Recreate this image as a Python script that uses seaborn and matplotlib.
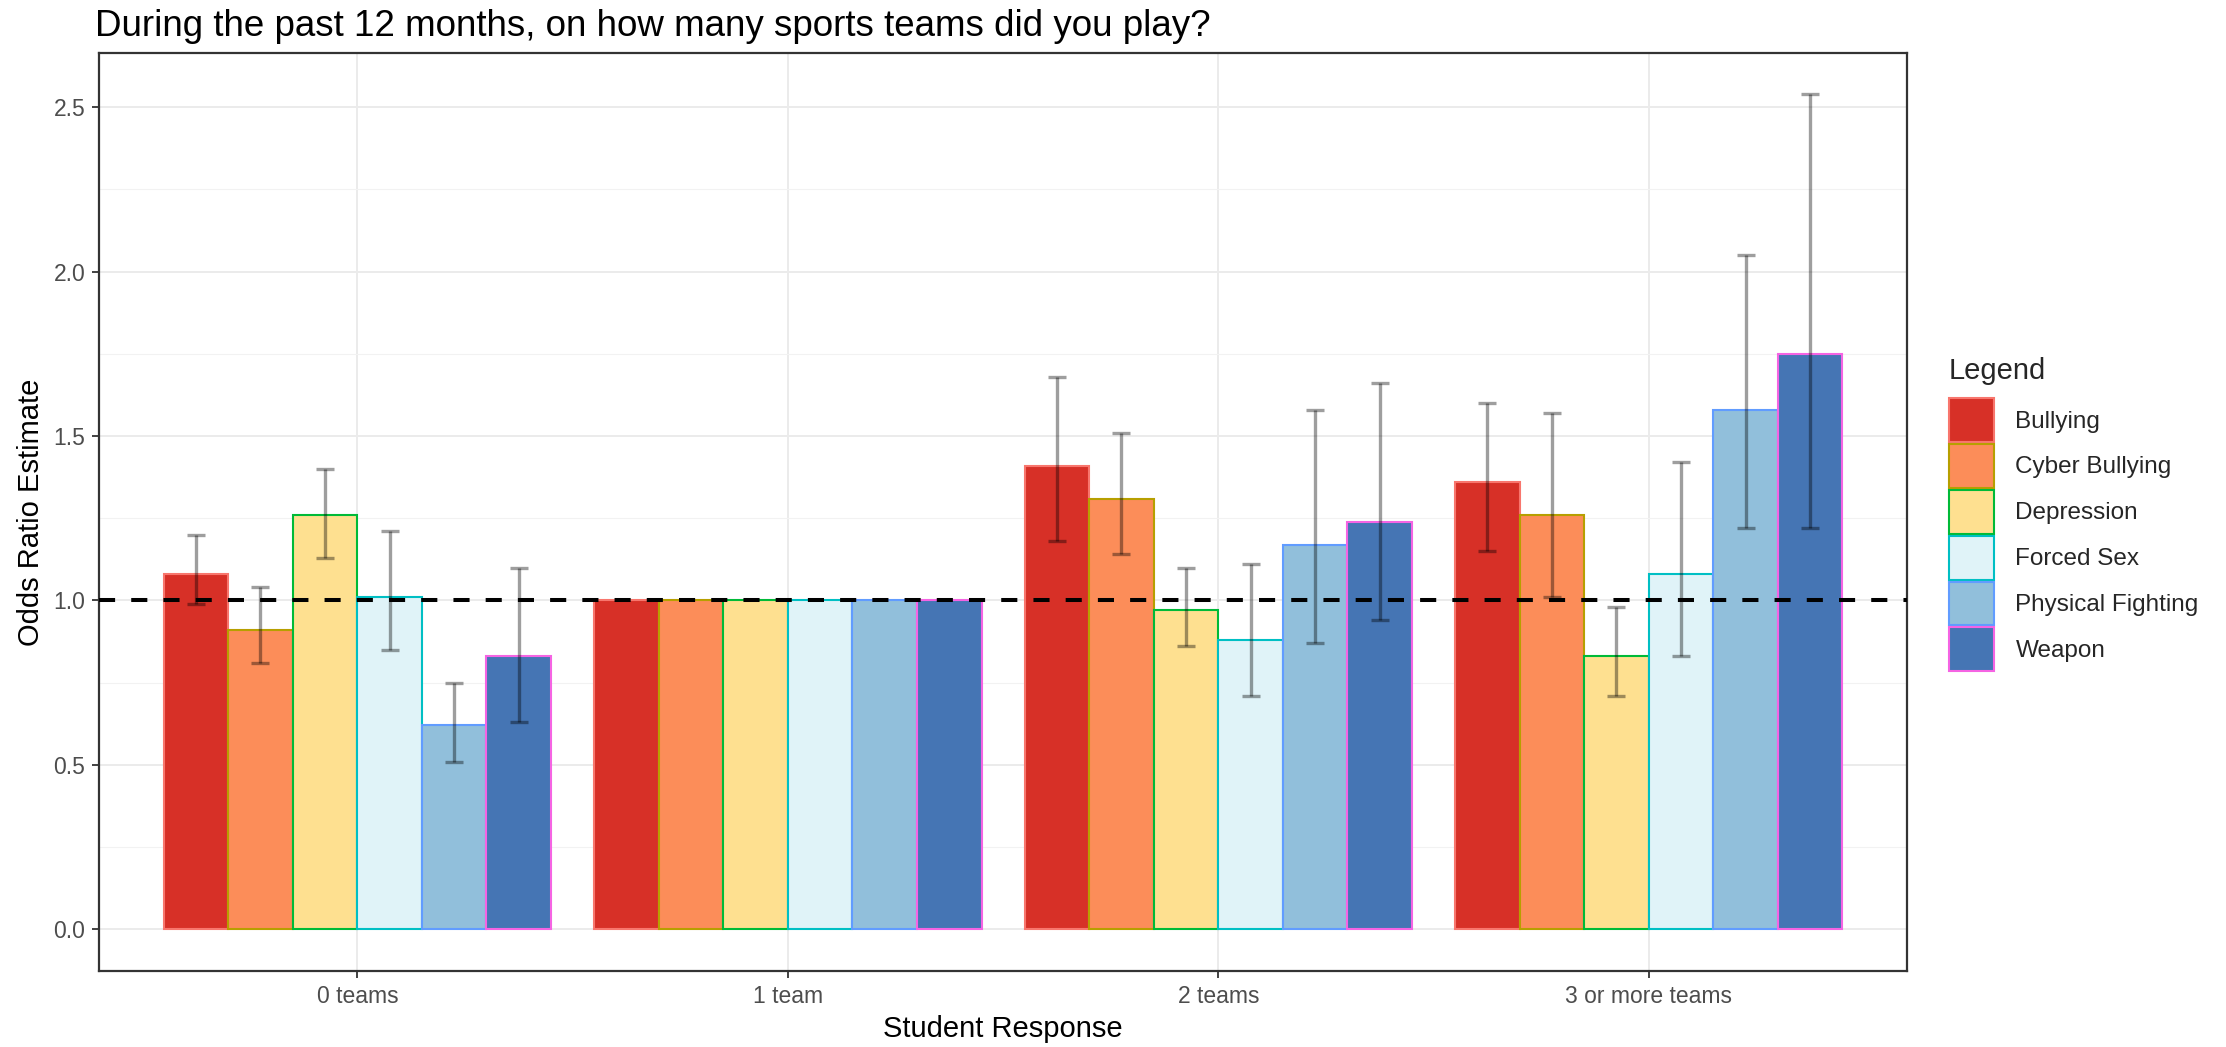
import matplotlib
matplotlib.use("Agg")
import matplotlib.pyplot as plt
from matplotlib.patches import Patch
from matplotlib.ticker import MultipleLocator
import numpy as np
import pandas as pd
import seaborn as sns

# ---- data -------------------------------------------------------------
responses = ["0 teams", "1 team", "2 teams", "3 or more teams"]
outcomes = ["Bullying", "Cyber Bullying", "Depression", "Forced Sex",
            "Physical Fighting", "Weapon"]

# odds ratio estimates per outcome, in the order of `responses`
bullying_est = [1.08, 1.00, 1.41, 1.36]
cyber_est = [0.91, 1.00, 1.31, 1.26]
depression_est = [1.26, 1.00, 0.97, 0.83]
forced_sex_est = [1.01, 1.00, 0.88, 1.08]
fighting_est = [0.62, 1.00, 1.17, 1.58]
weapon_est = [0.83, 1.00, 1.24, 1.75]

# 95% confidence limits (reference level "1 team" has none)
bullying_lo = [0.99, np.nan, 1.18, 1.15]
bullying_hi = [1.20, np.nan, 1.68, 1.60]
cyber_lo = [0.81, np.nan, 1.14, 1.01]
cyber_hi = [1.04, np.nan, 1.51, 1.57]
depression_lo = [1.13, np.nan, 0.86, 0.71]
depression_hi = [1.40, np.nan, 1.10, 0.98]
forced_sex_lo = [0.85, np.nan, 0.71, 0.83]
forced_sex_hi = [1.21, np.nan, 1.11, 1.42]
fighting_lo = [0.51, np.nan, 0.87, 1.22]
fighting_hi = [0.75, np.nan, 1.58, 2.05]
weapon_lo = [0.63, np.nan, 0.94, 1.22]
weapon_hi = [1.10, np.nan, 1.66, 2.54]

fill_colors = ["#D73027", "#FC8D59", "#FEE090", "#E0F3F8", "#91BFDB", "#4575B4"]
edge_colors = ["#F8766D", "#B79F00", "#00BA38", "#00BFC4", "#619CFF", "#F564E3"]

estimates = [bullying_est, cyber_est, depression_est, forced_sex_est,
             fighting_est, weapon_est]
lows = [bullying_lo, cyber_lo, depression_lo, forced_sex_lo, fighting_lo, weapon_lo]
highs = [bullying_hi, cyber_hi, depression_hi, forced_sex_hi, fighting_hi, weapon_hi]

rows = []
for name, est, lo, hi in zip(outcomes, estimates, lows, highs):
    for r, e, l, h in zip(responses, est, lo, hi):
        rows.append({"response": r, "outcome": name, "estimate": e,
                     "lower": l, "upper": h})
df = pd.DataFrame(rows)

# ---- styling ----------------------------------------------------------
sns.set_theme(style="white")
plt.rcParams["font.family"] = ["Liberation Sans", "DejaVu Sans"]

fig = plt.figure(figsize=(22.26, 10.47), dpi=100)
ax = fig.add_axes([0.0445, 0.0726, 0.8122, 0.8768])

sns.barplot(data=df, x="response", y="estimate", hue="outcome",
            order=responses, hue_order=outcomes, palette=fill_colors,
            saturation=1, width=0.9, gap=0, errorbar=None, legend=False,
            ax=ax, zorder=2)

# outline each series in its own colour and add confidence intervals
for container, ec, name in zip(ax.containers, edge_colors, outcomes):
    sub = df[df["outcome"] == name].set_index("response").loc[responses]
    xs = []
    for bar in container:
        bar.set_edgecolor(ec)
        bar.set_linewidth(1.5)
        xs.append(bar.get_x() + bar.get_width() / 2)
    xs = np.array(xs)
    est = sub["estimate"].to_numpy()
    lo = sub["lower"].to_numpy()
    hi = sub["upper"].to_numpy()
    ok = ~np.isnan(lo)
    ax.errorbar(xs[ok], est[ok], yerr=[est[ok] - lo[ok], hi[ok] - est[ok]],
                fmt="none", ecolor=(0, 0, 0, 0.38), elinewidth=2.4,
                capsize=6.5, capthick=2.4, zorder=4)

# reference line at odds ratio 1
ax.axhline(1.0, color="black", linewidth=2.9, linestyle=(0, (4, 4)), zorder=5)

ax.set_xlim(-0.6, 3.6)
ax.set_ylim(-0.127, 2.665)
ax.yaxis.set_minor_locator(MultipleLocator(0.25))
ax.set_yticks([0, 0.5, 1.0, 1.5, 2.0, 2.5])
ax.set_yticklabels(["0.0", "0.5", "1.0", "1.5", "2.0", "2.5"])

ax.grid(which="major", axis="both", color="#EBEBEB", linewidth=1.4, zorder=0)
ax.grid(which="minor", axis="y", color="#F2F2F2", linewidth=0.8, zorder=0)
ax.set_axisbelow(True)

for sp in ax.spines.values():
    sp.set_color("#333333")
    sp.set_linewidth(1.6)

ax.tick_params(axis="both", which="major", length=5, width=1.3,
               color="#333333", labelsize=16.5, labelcolor="#4D4D4D",
               pad=5, bottom=True, left=True)
ax.tick_params(axis="both", which="minor", length=0)

ax.set_xlabel("Student Response", fontsize=21, color="black", labelpad=5)
ax.set_ylabel("Odds Ratio Estimate", fontsize=21, color="black", labelpad=6)
ax.set_title("During the past 12 months, on how many sports teams did you play?",
             fontsize=26.5, loc="left", x=-0.002, pad=12, color="black")

handles = [Patch(facecolor=fc, edgecolor=ec, linewidth=1.5)
           for fc, ec in zip(fill_colors, edge_colors)]
leg = fig.legend(handles, outcomes, title="Legend", loc="upper left",
                 bbox_to_anchor=(0.871, 0.668), frameon=False,
                 fontsize=17.5, title_fontsize=21, handlelength=1.85,
                 handleheight=2.4, labelspacing=0.08, handletextpad=0.9,
                 borderaxespad=0)
leg._legend_box.align = "left"
leg._legend_box.sep = 9.3  # gap between legend title and keys, in points

fig.savefig("out.png", dpi=100)
